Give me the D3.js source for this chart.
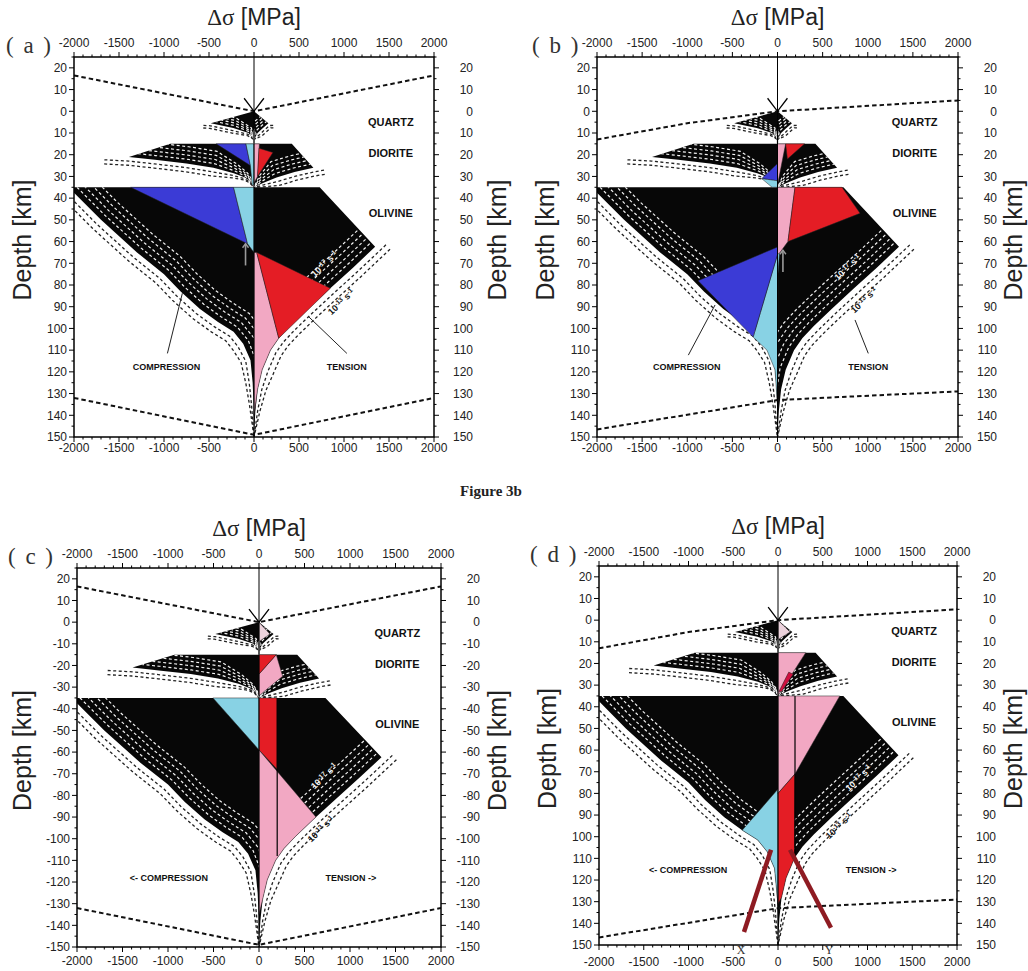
<!DOCTYPE html>
<html>
<head>
<meta charset="utf-8">
<script src="https://cdn.jsdelivr.net/npm/d3@7"></script>
<style>
  body { margin: 0; background: #fff; }
</style>
</head>
<body>
<svg id="fig" width="1028" height="971" font-family="Liberation Sans, Arial, sans-serif"></svg>
<script>
// ---------- axes ----------
const stressTicks = [-2000, -1500, -1000, -500, 0, 500, 1000, 1500, 2000];
const stressTickLabels = ["-2000", "-1500", "-1000", "-500", "0", "500", "1000", "1500", "2000"];
const depthTicks = [-20, -10, 0, 10, 20, 30, 40, 50, 60, 70, 80, 90, 100, 110, 120, 130, 140, 150];
const depthLabelsAbs = ["20","10","0","10","20","30","40","50","60","70","80","90","100","110","120","130","140","150"];
const depthLabelsNeg = ["20","10","0","-10","-20","-30","-40","-50","-60","-70","-80","-90","-100","-110","-120","-130","-140","-150"];

// ---------- strength envelopes [Δσ MPa, depth km] ----------
// brittle edge, ductile edge, and a lead-in point where the strain-rate contours start
const quartzCompBrittle  = [[0, 0], [-480, 5.5]];
const quartzCompDuctile  = [[-480, 5.5], [-230, 7.7], [-60, 10], [0, 13]];
const quartzCompLead     = [-560, 5.3];
const quartzTensBrittle  = [[0, 0], [160, 5.5]];
const quartzTensDuctile  = [[160, 5.5], [90, 8], [40, 10], [0, 13]];
const quartzTensLead     = [210, 5.3];
const dioriteCompBrittle = [[0, 15], [-930, 15], [-1390, 21]];
const dioriteCompDuctile = [[-1390, 21], [-1100, 22.3], [-750, 24], [-450, 26], [-225, 28.5], [-100, 30.5], [-39, 32.5], [0, 35]];
const dioriteCompLead    = [-1660, 20.4];
const dioriteTensBrittle = [[0, 15], [420, 15], [660, 26]];
const dioriteTensDuctile = [[660, 26], [450, 28], [250, 30.5], [100, 33], [0, 35]];
const dioriteTensLead    = [770, 25.2];
const olivineCompBrittle = [[0, 35], [-2070, 35]];
const olivineCompDuctile = [[-2070, 35], [-2000, 37.5], [-1700, 50], [-1300, 65], [-1000, 75], [-815, 83], [-600, 91], [-400, 97], [-227, 101.5], [-120, 107], [-39, 114.6], [-15, 125], [-5, 135], [0, 150]];
const olivineCompLead    = [-2150, 33];
const olivineTensBrittle = [[0, 35], [730, 35], [1346, 62.4]];
const olivineTensDuctile = [[1346, 62.4], [1100, 72], [848, 81.5], [600, 91], [400, 99], [275, 104.5], [183, 110], [91, 119], [40, 128], [15, 138], [0, 150]];
const olivineTensLead    = [1420, 59.5];

// contour spacing in pixels for each layer, and the contour indices drawn
const quartzSpacing = 2.6, dioriteSpacing = 4.2, olivineSpacing = 6;
const innerContours = [-1, -2, -3, -4];   // weaker strain rates, inside the envelope
const outerContours = [1, 2];             // stronger strain rates, outside

// ---------- dashed guides ----------
const guideTopAC = [[-2000, -16.5], [0, 0], [2000, -16.5]];
const guideBotAC = [[-2000, 132], [0, 149], [2000, 132]];
const guideTopBD = [[-2000, 13], [-1000, 5.5], [0, 0], [2000, -5]];
const guideBotBD = [[-2000, 146.5], [0, 133], [2000, 129]];

// ---------- stress distributions ----------
const aDioriteBlue = [[-420, 15], [-90, 15], [-40, 25]];
const aDioriteCyan = [[-90, 15], [0, 15], [0, 34], [-20, 34], [-40, 25]];
const aDioritePink = [[0, 15], [60, 15], [40, 30], [0, 33]];
const aDioriteRed  = [[55, 17], [210, 19], [40, 30]];
const aOlivineBlue = [[-1370, 35], [-227, 35], [-72, 61]];
const aOlivineCyan = [[-227, 35], [0, 35], [0, 65], [-72, 61]];
const aOlivineRed  = [[30, 65], [848, 81.5], [275, 104.5]];
const aOlivinePink = [[0, 65], [30, 65], [275, 104.5], [183, 110], [91, 119], [40, 128], [0, 140]];

const bDioriteBlue = [[-175, 31], [0, 24], [0, 32]];
const bDioriteCyan = [[-175, 31], [0, 32], [0, 35], [-60, 35]];
const bDioritePink = [[0, 15], [90, 15], [0, 34]];
const bDioriteRed  = [[90, 15], [300, 15], [110, 22]];
const bOlivinePink = [[0, 35], [194, 35], [116, 60], [28, 65], [0, 66]];
const bOlivineRed  = [[194, 35], [715, 35], [915, 47], [116, 60]];
const bOlivineBlue = [[28, 62], [-880, 78], [-270, 104]];
const bOlivineCyan = [[28, 62], [-270, 104], [-117, 110], [-28, 119], [0, 135], [5, 75]];

const cQuartzPale  = [[0, 0], [120, 5.5], [0, 9]];
const cDioriteRed  = [[0, 15], [190, 15], [0, 24]];
const cDioritePink = [[0, 24], [190, 15], [260, 25], [0, 34]];
const cOlivineCyan = [[-506, 35], [0, 35], [0, 59]];
const cOlivineRed  = [[0, 35], [200, 35], [200, 68], [0, 59]];
const cOlivinePink = [[0, 59], [626, 90], [600, 91], [400, 99], [275, 104.5], [183, 110], [91, 119], [40, 128], [0, 135]];
const cNeutralLine = [[200, 35], [200, 108]];

const dQuartzPale  = [[0, 0], [135, 5.5], [0, 9]];
const dDioritePink = [[0, 15], [310, 15], [0, 35]];
const dDioriteRed  = [[10, 33], [120, 24], [170, 25], [40, 33]];
const dOlivinePink = [[0, 35], [690, 35], [190, 71], [0, 80]];
const dOlivineRed  = [[0, 80], [190, 71], [183, 110], [91, 119], [40, 128], [0, 131]];
const dOlivineCyan = [[0, 78], [-400, 97], [-227, 101.5], [-120, 107], [-39, 114.6], [-15, 125], [0, 131]];
const dNeutralLine = [[190, 35], [190, 108]];
const dSectionX = [[-380, 144], [-78, 106]];
const dSectionY = [[592, 142], [134, 106]];

// ---------- annotation positions [Δσ, depth] ----------
const layerNames = ["QUARTZ", "DIORITE", "OLIVINE"];
const layerNameDepths = [5, 19.3, 47];
const layerNameStress = 1520;

// ---------- styling ----------
const BLUE = "#3b3bd6", CYAN = "#88d2e4", RED = "#e41d25", PINK = "#f2a8c3", PALE = "#ecd2dc", CRIMSON = "#cf1040";
const SERIF = "Liberation Serif, Times New Roman, serif";

const envelopes = [
  { side: -1, brittle: quartzCompBrittle,  ductile: quartzCompDuctile,  lead: quartzCompLead,  gap: quartzSpacing },
  { side:  1, brittle: quartzTensBrittle,  ductile: quartzTensDuctile,  lead: quartzTensLead,  gap: quartzSpacing },
  { side: -1, brittle: dioriteCompBrittle, ductile: dioriteCompDuctile, lead: dioriteCompLead, gap: dioriteSpacing },
  { side:  1, brittle: dioriteTensBrittle, ductile: dioriteTensDuctile, lead: dioriteTensLead, gap: dioriteSpacing },
  { side: -1, brittle: olivineCompBrittle, ductile: olivineCompDuctile, lead: olivineCompLead, gap: olivineSpacing },
  { side:  1, brittle: olivineTensBrittle, ductile: olivineTensDuctile, lead: olivineTensLead, gap: olivineSpacing }
];

const panels = [
  { id: "a", x0: 74, x1: 434, y0: 57, y1: 437, tag: "( a )", tagX: 6, labels: depthLabelsAbs, botPad: 15,
    guides: [guideTopAC, guideBotAC], depthX: [22, 497],
    patches: [[aDioriteBlue, BLUE], [aDioriteCyan, CYAN], [aDioritePink, PINK], [aDioriteRed, RED],
              [aOlivineBlue, BLUE], [aOlivineCyan, CYAN], [aOlivinePink, PINK], [aOlivineRed, RED]],
    lines: [], arrows: [[[-94, 71], [-94, 61]], [[0, 15], [0, 9]]],
    comp: { text: "COMPRESSION", at: [-973, 117.8], leader: [[-962, 111.5], [-796, 83.8]] },
    tens: { text: "TENSION", at: [1032, 117.8], leader: [[1032, 111.5], [607, 94.6]] },
    rate17: [782, 70.3], rate13: [968, 87.8] },
  { id: "b", x0: 597, x1: 958, y0: 57, y1: 437, tag: "( b )", tagX: 532, labels: depthLabelsAbs, botPad: 15,
    guides: [guideTopBD, guideBotBD], depthX: [545, 1013],
    patches: [[bDioriteBlue, BLUE], [bDioriteCyan, CYAN], [bDioritePink, PINK], [bDioriteRed, RED],
              [bOlivineCyan, CYAN], [bOlivineBlue, BLUE], [bOlivinePink, PINK], [bOlivineRed, RED]],
    lines: [], arrows: [[[60, 74], [60, 64]], [[0, 15], [0, 9]]],
    comp: { text: "COMPRESSION", at: [-1006, 117.8], leader: [[-988, 112.3], [-692, 89.2]] },
    tens: { text: "TENSION", at: [1006, 117.8], leader: [[1006, 111.5], [859, 96.1]] },
    rate17: [776, 71.9], rate13: [958, 87] },
  { id: "c", x0: 77, x1: 441, y0: 568, y1: 947, tag: "( c )", tagX: 8, labels: depthLabelsNeg, botPad: 18,
    guides: [guideTopAC, guideBotAC], depthX: [22, 497],
    patches: [[cQuartzPale, PALE], [cDioritePink, PINK], [cDioriteRed, RED],
              [cOlivineCyan, CYAN], [cOlivineRed, RED], [cOlivinePink, PINK]],
    lines: [cNeutralLine], arrows: [[[0, 15], [0, 9]]],
    comp: { text: "<- COMPRESSION", at: [-989, 118.2] },
    tens: { text: "TENSION ->", at: [1009, 118.2] },
    rate17: [714, 71.1], rate13: [680, 95.6] },
  { id: "d", x0: 599, x1: 957, y0: 566, y1: 945, tag: "( d )", tagX: 530, labels: depthLabelsAbs, botPad: 21,
    guides: [guideTopBD, guideBotBD], depthX: [547, 1013],
    patches: [[dQuartzPale, PALE], [dDioritePink, PINK], [dDioriteRed, CRIMSON],
              [dOlivineCyan, CYAN], [dOlivinePink, PINK], [dOlivineRed, RED]],
    lines: [dNeutralLine], arrows: [[[0, 15], [0, 9]]],
    comp: { text: "<- COMPRESSION", at: [-1005, 115.4] },
    tens: { text: "TENSION ->", at: [1040, 115.4] },
    rate17: [900, 72.9], rate13: [680, 95],
    sections: [[dSectionX, "X", -413], [dSectionY, "Y", 570]] }
];

const svg = d3.select("#fig");
const defs = svg.append("defs");

const outline = env => env.brittle.concat(env.ductile.slice(1));

// offset a pixel polyline along its outward normal; the offset fades out over the last part of the curve
function offsetCurve(pts, side, dist) {
  const cum = [0];
  for (let i = 1; i < pts.length; i++) cum.push(cum[i - 1] + Math.hypot(pts[i][0] - pts[i - 1][0], pts[i][1] - pts[i - 1][1]));
  const total = cum[cum.length - 1];
  return pts.map((p, i) => {
    const a = pts[Math.max(0, i - 1)], b = pts[Math.min(pts.length - 1, i + 1)];
    let dx = b[0] - a[0], dy = b[1] - a[1];
    const len = Math.hypot(dx, dy) || 1;
    dx /= len; dy /= len;
    const fade = Math.min(1, (1 - cum[i] / total) / 0.28);
    return [p[0] + side * dy * dist * fade, p[1] - side * dx * dist * fade];
  });
}

function drawPanel(p) {
  const x = d3.scaleLinear().domain([-2000, 2000]).range([p.x0, p.x1]);
  const y = d3.scaleLinear().domain([-25, 150]).range([p.y0, p.y1]);
  const line = d3.line().x(d => x(d[0])).y(d => y(d[1]));
  const px = pts => pts.map(d => [x(d[0]), y(d[1])]);
  const pxLine = d3.line();
  const g = svg.append("g");

  defs.append("clipPath").attr("id", "frame-" + p.id)
    .append("rect").attr("x", p.x0).attr("y", p.y0).attr("width", p.x1 - p.x0).attr("height", p.y1 - p.y0);
  const plot = g.append("g").attr("clip-path", `url(#frame-${p.id})`);

  const contour = (env, k) => pxLine(offsetCurve(px([env.lead].concat(env.ductile)), env.side, env.gap * k));

  // outer strain-rate contours
  envelopes.forEach(env => outerContours.forEach(k => {
    plot.append("path").attr("d", contour(env, k)).attr("fill", "none")
      .attr("stroke", "#222").attr("stroke-width", 1.3).attr("stroke-dasharray", "3,2.5");
  }));

  // envelopes and the contours inside them
  envelopes.forEach((env, i) => {
    plot.append("path").attr("d", line(outline(env)) + "Z").attr("fill", "#070707");
    const cid = `env-${p.id}-${i}`;
    defs.append("clipPath").attr("id", cid).append("path").attr("d", line(outline(env)) + "Z");
    const inner = plot.append("g").attr("clip-path", `url(#${cid})`);
    innerContours.forEach(k => inner.append("path").attr("d", contour(env, k)).attr("fill", "none")
      .attr("stroke", "#f4f4f4").attr("stroke-width", 1.2).attr("stroke-dasharray", "3,2.5"));
  });

  // stress distributions
  p.patches.forEach(([pts, fill]) => {
    plot.append("path").attr("d", line(pts) + "Z").attr("fill", fill)
      .attr("stroke", "#222").attr("stroke-width", 0.5);
  });
  p.lines.forEach(pts => plot.append("path").attr("d", line(pts)).attr("stroke", "#000").attr("stroke-width", 1.2));

  // dashed guides
  p.guides.forEach(pts => plot.append("path").attr("d", line(pts)).attr("fill", "none")
    .attr("stroke", "#111").attr("stroke-width", 2).attr("stroke-dasharray", "4.5,3"));

  // small uplift arrows
  p.arrows.forEach(([from, to]) => {
    plot.append("line").attr("x1", x(from[0])).attr("y1", y(from[1])).attr("x2", x(to[0])).attr("y2", y(to[1]))
      .attr("stroke", "#9a9a9a").attr("stroke-width", 1.6);
    plot.append("path").attr("d", `M${x(to[0]) - 3},${y(to[1]) + 4}L${x(to[0])},${y(to[1])}L${x(to[0]) + 3},${y(to[1]) + 4}`)
      .attr("fill", "none").attr("stroke", "#9a9a9a").attr("stroke-width", 1.4);
  });

  // zero-stress axis with the load arrow
  g.append("line").attr("x1", x(0)).attr("x2", x(0)).attr("y1", y(-25)).attr("y2", y(150))
    .attr("stroke", "#000").attr("stroke-width", 1);
  g.append("path").attr("d", `M${x(-110)},${y(-6)}L${x(0)},${y(0)}L${x(110)},${y(-6)}`)
    .attr("fill", "none").attr("stroke", "#000").attr("stroke-width", 1.3);

  // frame
  g.append("rect").attr("x", p.x0).attr("y", p.y0).attr("width", p.x1 - p.x0).attr("height", p.y1 - p.y0)
    .attr("fill", "none").attr("stroke", "#000").attr("stroke-width", 1.5);

  // ticks
  const minorS = d3.range(-2000, 2001, 100), minorD = d3.range(-25, 151, 5);
  minorS.forEach(s => {
    const len = stressTicks.includes(s) ? 5 : 2.5;
    g.append("line").attr("x1", x(s)).attr("x2", x(s)).attr("y1", p.y0).attr("y2", p.y0 - len).attr("stroke", "#000");
    g.append("line").attr("x1", x(s)).attr("x2", x(s)).attr("y1", p.y1).attr("y2", p.y1 + len).attr("stroke", "#000");
  });
  minorD.forEach(dz => {
    const len = depthTicks.includes(dz) ? 5 : 2.5;
    g.append("line").attr("y1", y(dz)).attr("y2", y(dz)).attr("x1", p.x0).attr("x2", p.x0 - len).attr("stroke", "#000");
    g.append("line").attr("y1", y(dz)).attr("y2", y(dz)).attr("x1", p.x1).attr("x2", p.x1 + len).attr("stroke", "#000");
  });
  stressTicks.forEach((s, i) => {
    g.append("text").attr("x", x(s)).attr("y", p.y0 - 10).attr("text-anchor", "middle")
      .attr("font-size", 12).attr("fill", "#222").text(stressTickLabels[i]);
    g.append("text").attr("x", x(s)).attr("y", p.y1 + p.botPad).attr("text-anchor", "middle")
      .attr("font-size", 12).attr("fill", "#222").text(stressTickLabels[i]);
  });
  depthTicks.forEach((dz, i) => {
    g.append("text").attr("x", p.x0 - 7).attr("y", y(dz)).attr("dy", "0.36em").attr("text-anchor", "end")
      .attr("font-size", 12).attr("fill", "#222").text(p.labels[i]);
    g.append("text").attr("x", p.x1 + 39).attr("y", y(dz)).attr("dy", "0.36em").attr("text-anchor", "end")
      .attr("font-size", 12).attr("fill", "#222").text(p.labels[i]);
  });

  // axis titles
  const title = g.append("text").attr("x", x(0)).attr("y", p.y0 - 32).attr("text-anchor", "middle")
    .attr("font-size", 23).attr("fill", "#222");
  title.append("tspan").attr("font-family", SERIF).text("Δσ");
  title.append("tspan").text(" [MPa]");
  const midY = (p.y0 + p.y1) / 2 - 7;
  p.depthX.forEach(cx => g.append("text").attr("transform", `translate(${cx},${midY}) rotate(-90)`)
    .attr("text-anchor", "middle").attr("dy", "0.35em").attr("font-size", 25).attr("fill", "#222").text("Depth [km]"));

  g.append("text").attr("x", p.tagX).attr("y", p.y0 - 4).attr("font-family", SERIF)
    .attr("font-size", 23).attr("letter-spacing", 2).attr("fill", "#333").attr("xml:space", "preserve").text(p.tag);

  // layer names
  layerNames.forEach((n, i) => g.append("text").attr("x", x(layerNameStress)).attr("y", y(layerNameDepths[i]))
    .attr("dy", "0.35em").attr("text-anchor", "middle").attr("font-size", 11).attr("font-weight", "bold")
    .attr("fill", "#111").text(n));

  // compression / tension captions
  [p.comp, p.tens].forEach(c => {
    g.append("text").attr("x", x(c.at[0])).attr("y", y(c.at[1])).attr("dy", "0.35em").attr("text-anchor", "middle")
      .attr("font-size", 9).attr("font-weight", "bold").attr("fill", "#111").text(c.text);
    if (c.leader) g.append("path").attr("d", line(c.leader)).attr("stroke", "#222").attr("stroke-width", 1);
  });

  // strain-rate labels
  [[p.rate17, "-17", "#f0f0f0"], [p.rate13, "-13", "#111"]].forEach(([pos, ex, col]) => {
    const t = g.append("text").attr("transform", `translate(${x(pos[0])},${y(pos[1])}) rotate(-44)`)
      .attr("text-anchor", "middle").attr("dy", "0.35em").attr("font-size", 9).attr("font-weight", "bold").attr("fill", col);
    t.append("tspan").text("10");
    t.append("tspan").attr("dy", -3).attr("font-size", 6.5).text(ex);
    t.append("tspan").attr("dy", 3).text(" s");
    t.append("tspan").attr("dy", -3).attr("font-size", 6.5).text("-1");
  });

  // section traces
  (p.sections || []).forEach(([pts, name, at]) => {
    g.append("path").attr("d", line(pts)).attr("stroke", "#8e1b22").attr("stroke-width", 4.5);
    g.append("text").attr("x", x(at)).attr("y", p.y1 + 9).attr("text-anchor", "middle")
      .attr("font-family", SERIF).attr("font-size", 12).attr("fill", "#333").text(name);
  });
}

panels.forEach(drawPanel);

svg.append("text").attr("x", 491).attr("y", 496).attr("text-anchor", "middle")
  .attr("font-family", SERIF).attr("font-weight", "bold").attr("font-size", 15)
  .attr("fill", "#222").text("Figure 3b");
</script>
</body>
</html>
